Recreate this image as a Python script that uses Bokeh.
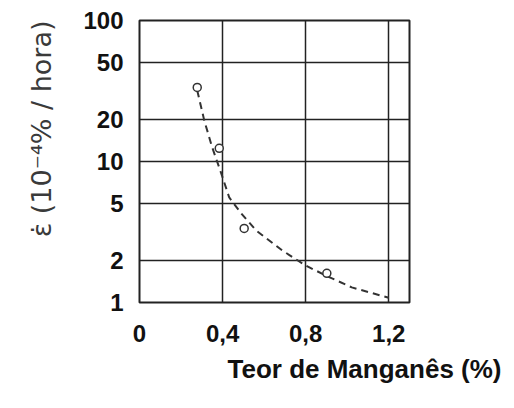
from bokeh.plotting import figure
from bokeh.models import FixedTicker, Range1d, Title
from bokeh.embed import file_html
from bokeh.resources import INLINE

# data
mn_points = [0.278, 0.384, 0.504, 0.902]
rate_points = [33.5, 12.4, 3.35, 1.61]

mn_curve = [0.278, 0.312, 0.350, 0.394, 0.432, 0.49, 0.562, 0.687, 0.80, 0.898, 1.022, 1.20]
rate_curve = [31.9, 19.5, 12.6, 8.2, 5.56, 4.28, 3.24, 2.34, 1.83, 1.55, 1.28, 1.08]

x_ticks = [0, 0.4, 0.8, 1.2]
x_tick_labels = ["0", "0,4", "0,8", "1,2"]
y_ticks = [1, 2, 5, 10, 20, 50, 100]
y_tick_labels = ["1", "2", "5", "10", "20", "50", "100"]

x_title = "Teor de Manganês (%)"
y_title = "ε̇ (10⁻⁴% / hora)"

p = figure(width=506, height=400, frame_width=270, frame_height=282,
           y_axis_type="log", output_backend="svg", toolbar_location=None,
           x_range=Range1d(0, 1.3), y_range=Range1d(1, 100))
p.min_border_left = 139
p.min_border_right = 97
p.min_border_top = 20
p.min_border_bottom = 98
p.background_fill_color = "white"
p.border_fill_color = "white"
p.outline_line_color = "#222222"
p.outline_line_width = 2

ink = "#222222"
font = "Liberation Sans"

p.xaxis.ticker = FixedTicker(ticks=x_ticks)
p.xaxis.major_label_overrides = {t: l for t, l in zip(x_ticks, x_tick_labels)}
p.yaxis.ticker = FixedTicker(ticks=y_ticks)
p.yaxis.major_label_overrides = {t: l for t, l in zip(y_ticks, y_tick_labels)}

for ax in (p.xaxis, p.yaxis):
    ax.axis_line_color = None
    ax.major_tick_line_color = None
    ax.minor_tick_line_color = None
    ax.major_label_text_font = font
    ax.major_label_text_font_style = "bold"
    ax.major_label_text_font_size = "24px"
    ax.major_label_text_color = "#111111"

p.xaxis.major_label_standoff = 16
p.yaxis.major_label_standoff = 10

p.xgrid.ticker = FixedTicker(ticks=[0.4, 0.8, 1.2])
p.ygrid.ticker = FixedTicker(ticks=[2, 5, 10, 20, 50])
for g in (p.xgrid, p.ygrid):
    g.grid_line_color = ink
    g.grid_line_width = 1.5
    g.grid_line_alpha = 1.0

p.line(mn_curve, rate_curve, line_color="#333333", line_width=2, line_dash="7 5")
p.scatter(mn_points, rate_points, marker="circle", size=8, fill_color="white",
          line_color="#333333", line_width=1.5)

p.add_layout(Title(text=x_title, align="left", offset=88, standoff=14,
                   text_font=font, text_font_style="bold",
                   text_font_size="26px", text_color="#111111"), "below")

p.add_layout(Title(text=y_title, align="right", offset=0, standoff=47,
                   text_font="DejaVu Sans", text_font_style="normal",
                   text_font_size="27px", text_color="#3a3a3a"), "left")

open("out.html", "w").write(file_html(p, INLINE))
